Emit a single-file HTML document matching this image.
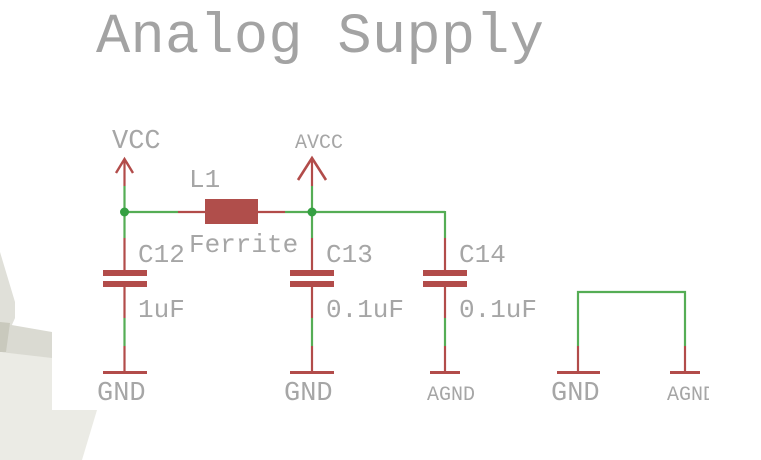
<!DOCTYPE html>
<html>
<head>
<meta charset="utf-8">
<style>
  html, body { margin: 0; padding: 0; background: #ffffff; }
  body { width: 761px; height: 460px; overflow: hidden; }
  svg { display: block; }
  text { font-family: "Liberation Mono", "DejaVu Sans Mono", monospace; fill: #a6a6a6; }
</style>
</head>
<body>
<svg width="761" height="460" viewBox="0 0 761 460" xmlns="http://www.w3.org/2000/svg">
  <!-- background shapes lower-left -->
  <polygon points="0,252 15,302 15,318 0,352" fill="#e0e0d9"/>
  <polygon points="0,323 52,332 52,360 0,352" fill="#dadad2"/>
  <polygon points="0,322 10,323 6,352 0,352" fill="#c9c9bd"/>
  <polygon points="0,352 52,358 52,410 97,410 82,460 0,460" fill="#ebebe5"/>

  <!-- Title -->
  <text x="96" y="52" font-size="57" textLength="448" lengthAdjust="spacing" style="fill:#a3a3a3">Analog Supply</text>

  <g stroke-linecap="butt" fill="none">
    <!-- VCC supply -->
    <line x1="124.5" y1="159" x2="124.5" y2="186" stroke="#b24c4a" stroke-width="2.2"/>
    <polyline points="116,173 124.5,159 133,173" stroke="#b24c4a" stroke-width="2.4"/>
    <line x1="124.5" y1="186" x2="124.5" y2="212" stroke="#55ad55" stroke-width="2.2"/>

    <!-- AVCC supply -->
    <line x1="312" y1="159" x2="312" y2="186" stroke="#b24c4a" stroke-width="2.2"/>
    <polyline points="298,180 312,158 326,180" stroke="#b24c4a" stroke-width="2.6"/>
    <line x1="312" y1="186" x2="312" y2="212" stroke="#55ad55" stroke-width="2.2"/>

    <!-- top horizontal net -->
    <line x1="124.5" y1="212" x2="178" y2="212" stroke="#55ad55" stroke-width="2.2"/>
    <line x1="178" y1="212" x2="206" y2="212" stroke="#b24c4a" stroke-width="2.2"/>
    <line x1="257" y1="212" x2="285" y2="212" stroke="#b24c4a" stroke-width="2.2"/>
    <line x1="285" y1="212" x2="445" y2="212" stroke="#55ad55" stroke-width="2.2"/>
    <line x1="445" y1="211" x2="445" y2="238" stroke="#55ad55" stroke-width="2.2"/>

    <!-- C12 -->
    <line x1="124.5" y1="212" x2="124.5" y2="238" stroke="#55ad55" stroke-width="2.2"/>
    <line x1="124.5" y1="238" x2="124.5" y2="271" stroke="#b24c4a" stroke-width="2.2"/>
    <line x1="124.5" y1="286" x2="124.5" y2="318" stroke="#b24c4a" stroke-width="2.2"/>
    <line x1="124.5" y1="318" x2="124.5" y2="346" stroke="#55ad55" stroke-width="2.2"/>
    <line x1="124.5" y1="346" x2="124.5" y2="372" stroke="#b24c4a" stroke-width="2.2"/>

    <!-- C13 -->
    <line x1="312" y1="212" x2="312" y2="238" stroke="#55ad55" stroke-width="2.2"/>
    <line x1="312" y1="238" x2="312" y2="271" stroke="#b24c4a" stroke-width="2.2"/>
    <line x1="312" y1="286" x2="312" y2="318" stroke="#b24c4a" stroke-width="2.2"/>
    <line x1="312" y1="318" x2="312" y2="346" stroke="#55ad55" stroke-width="2.2"/>
    <line x1="312" y1="346" x2="312" y2="372" stroke="#b24c4a" stroke-width="2.2"/>

    <!-- C14 -->
    <line x1="445" y1="238" x2="445" y2="271" stroke="#b24c4a" stroke-width="2.2"/>
    <line x1="445" y1="286" x2="445" y2="318" stroke="#b24c4a" stroke-width="2.2"/>
    <line x1="445" y1="318" x2="445" y2="346" stroke="#55ad55" stroke-width="2.2"/>
    <line x1="445" y1="346" x2="445" y2="372" stroke="#b24c4a" stroke-width="2.2"/>

    <!-- GND-AGND jumper -->
    <polyline points="578,346 578,292 685,292 685,346" stroke="#55ad55" stroke-width="2.2"/>
    <line x1="578" y1="346" x2="578" y2="372" stroke="#b24c4a" stroke-width="2.2"/>
    <line x1="685" y1="346" x2="685" y2="372" stroke="#b24c4a" stroke-width="2.2"/>

    <!-- ground bars -->
    <line x1="103" y1="372.5" x2="147" y2="372.5" stroke="#b24c4a" stroke-width="3"/>
    <line x1="290" y1="372.5" x2="334" y2="372.5" stroke="#b24c4a" stroke-width="3"/>
    <line x1="430" y1="372.5" x2="460" y2="372.5" stroke="#b24c4a" stroke-width="3"/>
    <line x1="557" y1="372.5" x2="600" y2="372.5" stroke="#b24c4a" stroke-width="3"/>
    <line x1="670" y1="372.5" x2="700" y2="372.5" stroke="#b24c4a" stroke-width="3"/>
  </g>

  <!-- capacitor plates -->
  <g fill="#b24c4a">
    <rect x="103" y="270" width="44" height="6"/>
    <rect x="103" y="281" width="44" height="6"/>
    <rect x="290" y="270" width="44" height="6"/>
    <rect x="290" y="281" width="44" height="6"/>
    <rect x="423" y="270" width="44" height="6"/>
    <rect x="423" y="281" width="44" height="6"/>
  </g>

  <!-- inductor -->
  <rect x="205" y="199" width="53" height="25" fill="#b04e4b"/>

  <!-- junctions -->
  <circle cx="124.5" cy="212" r="4.5" fill="#35a042"/>
  <circle cx="312" cy="212" r="4.5" fill="#35a042"/>

  <!-- labels -->
  <text x="112" y="148" font-size="27">VCC</text>
  <text x="295" y="148" font-size="20">AVCC</text>
  <text x="189" y="187" font-size="26">L1</text>
  <text x="189" y="252" font-size="26">Ferrite</text>
  <text x="138" y="262" font-size="26">C12</text>
  <text x="326" y="262" font-size="26">C13</text>
  <text x="459" y="262" font-size="26">C14</text>
  <text x="138" y="317" font-size="26">1uF</text>
  <text x="326" y="317" font-size="26">0.1uF</text>
  <text x="459" y="317" font-size="26">0.1uF</text>
  <text x="97" y="400" font-size="27">GND</text>
  <text x="284" y="400" font-size="27">GND</text>
  <text x="427" y="400" font-size="20">AGND</text>
  <text x="551" y="400" font-size="27">GND</text>
  <text x="667" y="400" font-size="20">AGND</text>

  <!-- right clip -->
  <rect x="709" y="375" width="52" height="40" fill="#ffffff"/>
</svg>
</body>
</html>
